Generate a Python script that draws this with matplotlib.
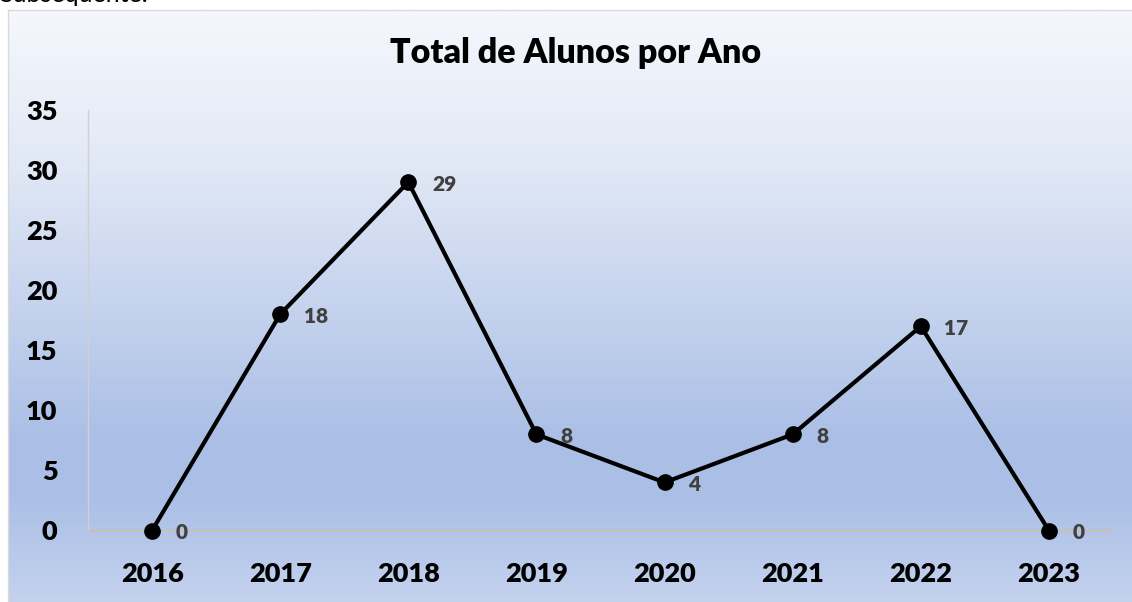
import matplotlib.pyplot as plt
import numpy as np
from matplotlib.colors import LinearSegmentedColormap

# Data
anos = ['2016', '2017', '2018', '2019', '2020', '2021', '2022', '2023']
alunos = [0, 18, 29, 8, 4, 8, 17, 0]
y_ticks = [0, 5, 10, 15, 20, 25, 30, 35]

W, H = 1132, 602
fig = plt.figure(figsize=(W / 100, H / 100), dpi=100)
plt.rcParams['font.family'] = ['Lato', 'DejaVu Sans']
peso = 'heavy'

# Gradient background of the chart area (pixel coords, top = 0)
bg = fig.add_axes([0, 0, 1, 1], zorder=0)
bg.set_xlim(0, W)
bg.set_ylim(H, 0)
bg.axis('off')
cmap = LinearSegmentedColormap.from_list(
    'grad', [(0.0, '#f5f7fc'), (0.25, '#e2e9f6'), (0.72, '#abbfe6'),
             (0.82, '#abbfe6'), (1.0, '#c4d2ee')])
grad = np.linspace(0, 1, 300).reshape(-1, 1)
bg.imshow(grad, cmap=cmap, aspect='auto', extent=(8, W + 5, 605, 10))
bg.plot([8, 8, W], [H, 10, 10], color='#d9d9d9', lw=1)

# Text of the page above the chart, cut off
fig.text(-0.001, 1 - 2 / H, 'Subsequente.', fontsize=18, va='baseline', ha='left')

# Plot area
left, right = 88 / W, 1113 / W
bottom, top = 1 - 530.5 / H, 1 - 110 / H
ax = fig.add_axes([left, bottom, right - left, top - bottom], zorder=1)
ax.patch.set_alpha(0)

x = np.arange(len(anos))
ax.plot(x, alunos, color='black', lw=3, marker='o', ms=11, clip_on=False, zorder=3)
for xi, v in zip(x, alunos):
    ax.annotate(str(v), (xi, v), xytext=(17, -1.5), textcoords='offset points',
                va='center', ha='left', fontsize=15, fontweight=peso, color='#404040')

ax.set_xlim(-0.5, len(anos) - 0.5)
ax.set_ylim(0, 35)
ax.set_xticks(x)
ax.set_xticklabels(anos, fontsize=19.5, fontweight=peso)
ax.set_yticks(y_ticks)
ax.set_yticklabels([str(t) for t in y_ticks], fontsize=19.5, fontweight=peso)
ax.tick_params(axis='both', length=0)
ax.tick_params(axis='x', pad=23)
ax.tick_params(axis='y', pad=22)

for side in ['top', 'right']:
    ax.spines[side].set_visible(False)
ax.spines['left'].set_color('#d0d0d0')
ax.spines['bottom'].set_color('#c8c0b0')
ax.spines['left'].set_linewidth(1)
ax.spines['bottom'].set_linewidth(1.5)

fig.text(576 / W, 1 - 53 / H, 'Total de Alunos por Ano', ha='center', va='center',
         fontsize=24.5, fontweight=peso)

fig.savefig('out.png', dpi=100)
